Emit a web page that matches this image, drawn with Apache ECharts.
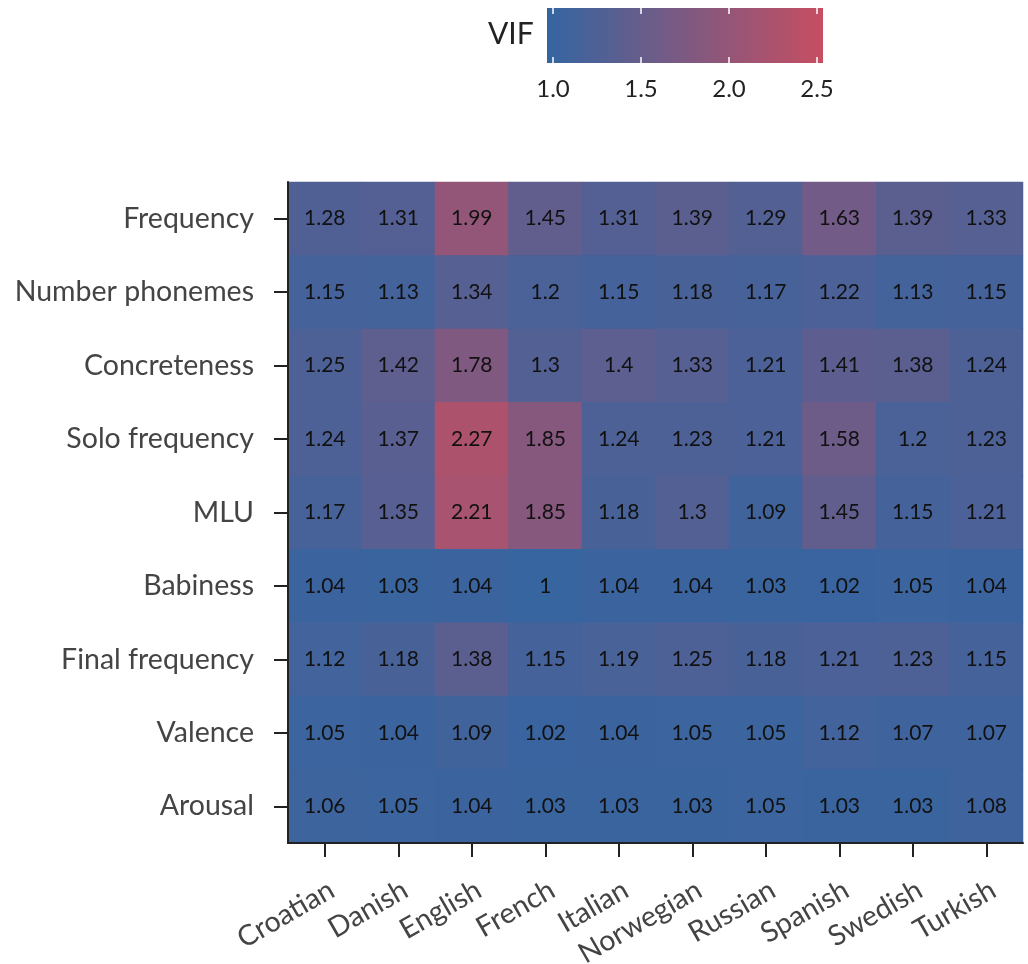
<!DOCTYPE html>
<html>
<head>
<meta charset="utf-8">
<script src="https://cdn.jsdelivr.net/npm/echarts@6/dist/echarts.min.js"></script>
<style>html,body{margin:0;padding:0;background:#fff}#c{width:1028px;height:964px}</style>
</head>
<body>
<div id="c"></div>
<script>
const languages = ['Croatian','Danish','English','French','Italian','Norwegian','Russian','Spanish','Swedish','Turkish'];
const predictors = ['Frequency','Number phonemes','Concreteness','Solo frequency','MLU','Babiness','Final frequency','Valence','Arousal'];
const vifFrequency      = [1.28,1.31,1.99,1.45,1.31,1.39,1.29,1.63,1.39,1.33];
const vifNumberPhonemes = [1.15,1.13,1.34,1.2,1.15,1.18,1.17,1.22,1.13,1.15];
const vifConcreteness   = [1.25,1.42,1.78,1.3,1.4,1.33,1.21,1.41,1.38,1.24];
const vifSoloFrequency  = [1.24,1.37,2.27,1.85,1.24,1.23,1.21,1.58,1.2,1.23];
const vifMLU            = [1.17,1.35,2.21,1.85,1.18,1.3,1.09,1.45,1.15,1.21];
const vifBabiness       = [1.04,1.03,1.04,1,1.04,1.04,1.03,1.02,1.05,1.04];
const vifFinalFrequency = [1.12,1.18,1.38,1.15,1.19,1.25,1.18,1.21,1.23,1.15];
const vifValence        = [1.05,1.04,1.09,1.02,1.04,1.05,1.05,1.12,1.07,1.07];
const vifArousal        = [1.06,1.05,1.04,1.03,1.03,1.03,1.05,1.03,1.03,1.08];
const colorbarTicks = [1.0, 1.5, 2.0, 2.5];
const colorbarRange = [0.966, 2.534];

const rows = [vifFrequency,vifNumberPhonemes,vifConcreteness,vifSoloFrequency,vifMLU,vifBabiness,vifFinalFrequency,vifValence,vifArousal];
const heatData = [];
rows.forEach((r, yi) => r.forEach((v, xi) => heatData.push([xi, yi, v])));

const cLow = '#3465a1', cHigh = '#c64e62';
const FONT = 'Lato';
const chart = echarts.init(document.getElementById('c'));
chart.setOption({
  backgroundColor: '#fff',
  textStyle: { fontFamily: FONT },
  grid: [
    { left: 288, right: 5, top: 182, bottom: 121, containLabel: false, outerBoundsMode: 'none',
      show: true, backgroundColor: '#4a5f96', borderWidth: 0 },
    { left: 547, width: 276, top: 8, height: 55, containLabel: false, outerBoundsMode: 'none' }
  ],
  xAxis: [
    { type: 'category', data: languages, gridIndex: 0, z: 10,
      axisLine: { show: true, lineStyle: { color: '#222', width: 2 } },
      axisTick: { show: true, interval: 0, alignWithLabel: true, length: 14, lineStyle: { color: '#222', width: 2 } },
      axisLabel: { interval: 0, hideOverlap: false, rotate: 30, fontSize: 28.5, color: '#444', margin: 32, verticalAlign: 'top', fontFamily: FONT },
      splitLine: { show: false } },
    { type: 'value', gridIndex: 1, position: 'bottom', min: colorbarRange[0], max: colorbarRange[1], z: 10,
      axisLine: { show: false },
      axisTick: { show: true, inside: true, length: 6, customValues: colorbarTicks, lineStyle: { color: '#fff', width: 1.5 } },
      axisLabel: { customValues: colorbarTicks, formatter: v => v.toFixed(1), fontSize: 24, color: '#222', margin: 14, fontFamily: FONT },
      splitLine: { show: false } },
    { type: 'value', gridIndex: 1, position: 'top', min: colorbarRange[0], max: colorbarRange[1], z: 10,
      axisLine: { show: false },
      axisTick: { show: true, inside: true, length: 6, customValues: colorbarTicks, lineStyle: { color: '#fff', width: 1.5 } },
      axisLabel: { show: false }, splitLine: { show: false } }
  ],
  yAxis: [
    { type: 'category', data: predictors, gridIndex: 0, inverse: true, z: 10,
      axisLine: { show: true, lineStyle: { color: '#222', width: 2 } },
      axisTick: { show: true, interval: 0, alignWithLabel: true, length: 14, lineStyle: { color: '#222', width: 2 } },
      axisLabel: { interval: 0, hideOverlap: false, fontSize: 28.5, color: '#444', margin: 34, fontFamily: FONT },
      splitLine: { show: false } },
    { type: 'value', gridIndex: 1, min: 0, max: 1, show: false }
  ],
  visualMap: {
    show: false, type: 'continuous', seriesIndex: 0, dimension: 2,
    min: colorbarRange[0], max: colorbarRange[1],
    inRange: { color: [cLow, cHigh] }
  },
  graphic: [
    { type: 'text', left: 488, top: 19, style: { text: 'VIF', font: '30px ' + FONT, fill: '#222' } }
  ],
  series: [
    { type: 'heatmap', xAxisIndex: 0, yAxisIndex: 0, data: heatData,
      label: { show: true, color: '#111', fontSize: 21, fontFamily: FONT, formatter: p => String(p.value[2]) },
      itemStyle: { borderWidth: 0 }, emphasis: { disabled: true } },
    { type: 'custom', xAxisIndex: 1, yAxisIndex: 1, data: [[colorbarRange[0], colorbarRange[1]]],
      silent: true, z: 1,
      renderItem: (params, api) => {
        const a = api.coord([api.value(0), 0]);
        const b = api.coord([api.value(1), 1]);
        return { type: 'rect',
          shape: { x: a[0], y: b[1], width: b[0] - a[0], height: a[1] - b[1] },
          style: { fill: new echarts.graphic.LinearGradient(0, 0, 1, 0, [
            { offset: 0, color: cLow }, { offset: 1, color: cHigh } ]) } };
      } }
  ]
});
</script>
</body>
</html>
